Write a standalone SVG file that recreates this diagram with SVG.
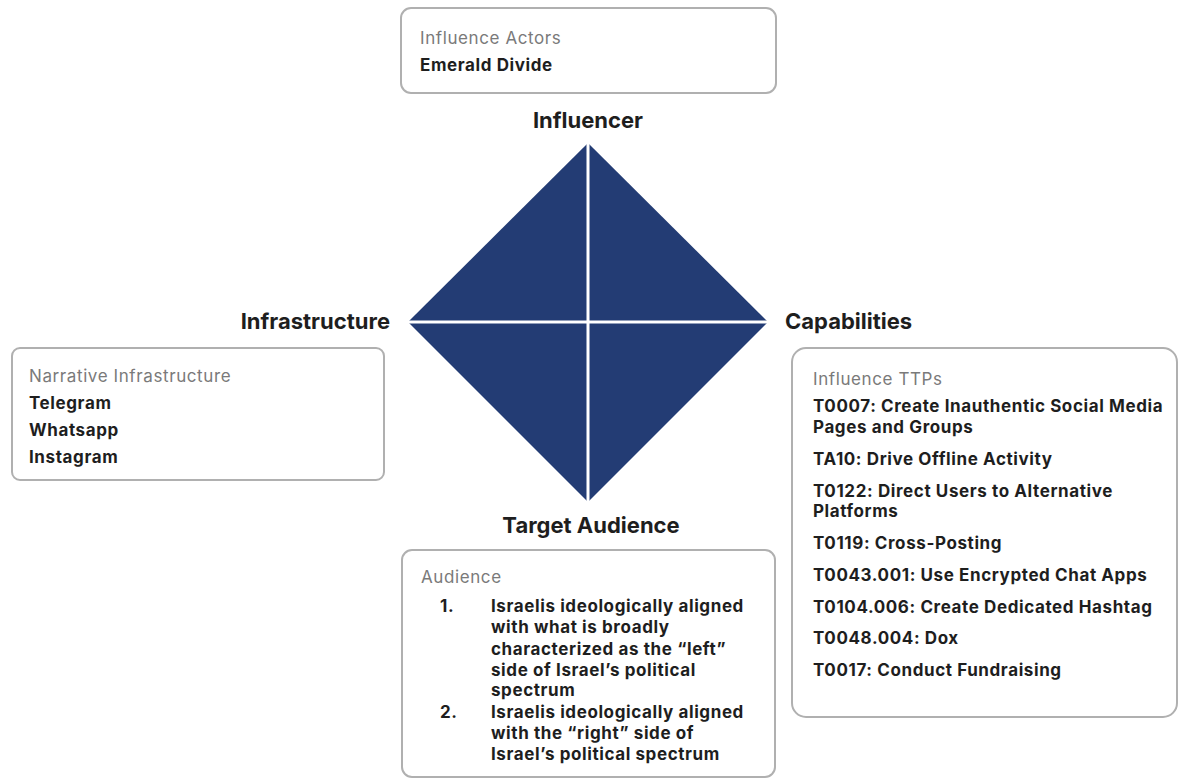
<svg xmlns="http://www.w3.org/2000/svg" width="1179" height="779" viewBox="0 0 1179 779">
  <style>
    .box { fill: #ffffff; stroke: #b0b0b0; stroke-width: 2; }
    .title { font-family: Inter, "Liberation Sans", sans-serif; font-weight: 700; font-size: 22px; fill: #1e1e1e; }
    .cap { font-family: Inter, "Liberation Sans", sans-serif; font-weight: 400; font-size: 17px; letter-spacing: 0.6px; fill: #7a7a7a; }
    .item { font-family: Inter, "Liberation Sans", sans-serif; font-weight: 700; font-size: 17px; letter-spacing: 0.6px; fill: #1e1e1e; }
    .quad { fill: #233c74; }
    .cut { stroke: #ffffff; stroke-width: 3; }
  </style>
  <rect x="0" y="0" width="1179" height="779" fill="#ffffff"/>

  <!-- central diamond split into four quadrants -->
  <g id="diamond">
    <polygon class="quad" points="588,143 768,322 588,502 408,322"/>
    <line class="cut" x1="588" y1="140" x2="588" y2="505"/>
    <line class="cut" x1="405" y1="322" x2="771" y2="322"/>
  </g>

  <!-- vertex labels -->
  <g id="labels">
    <text class="title" x="588" y="128" text-anchor="middle">Influencer</text>
    <text class="title" x="390" y="329" text-anchor="end">Infrastructure</text>
    <text class="title" x="785" y="329">Capabilities</text>
    <text class="title" x="591" y="533" text-anchor="middle">Target Audience</text>
  </g>

  <g id="connectors"></g>

  <g id="influence-actors">
    <rect class="box" x="401" y="8" width="375" height="85" rx="10"/>
    <text class="cap" x="420" y="44">Influence Actors</text>
    <text class="item" x="420" y="71">Emerald Divide</text>
  </g>

  <g id="narrative-infrastructure">
    <rect class="box" x="12" y="348" width="372" height="132" rx="8"/>
    <text class="cap" x="29" y="382">Narrative Infrastructure</text>
    <text class="item" x="29" y="409">Telegram</text>
    <text class="item" x="29" y="436">Whatsapp</text>
    <text class="item" x="29" y="463">Instagram</text>
  </g>

  <g id="influence-ttps">
    <rect class="box" x="792" y="348" width="385" height="369" rx="14"/>
    <text class="cap" x="813" y="385">Influence TTPs</text>
    <text class="item" x="813" y="412">T0007: Create Inauthentic Social Media</text>
    <text class="item" x="813" y="433">Pages and Groups</text>
    <text class="item" x="813" y="465">TA10: Drive Offline Activity</text>
    <text class="item" x="813" y="497">T0122: Direct Users to Alternative</text>
    <text class="item" x="813" y="517">Platforms</text>
    <text class="item" x="813" y="549">T0119: Cross-Posting</text>
    <text class="item" x="813" y="581">T0043.001: Use Encrypted Chat Apps</text>
    <text class="item" x="813" y="613">T0104.006: Create Dedicated Hashtag</text>
    <text class="item" x="813" y="644">T0048.004: Dox</text>
    <text class="item" x="813" y="676">T0017: Conduct Fundraising</text>
  </g>

  <g id="audience">
    <rect class="box" x="402" y="550" width="373" height="227" rx="10"/>
    <text class="cap" x="421" y="583">Audience</text>
    <text class="item" x="440" y="612">1.</text>
    <text class="item" x="491" y="612">Israelis ideologically aligned</text>
    <text class="item" x="491" y="633">with what is broadly</text>
    <text class="item" x="491" y="655">characterized as the “left”</text>
    <text class="item" x="491" y="676">side of Israel’s political</text>
    <text class="item" x="491" y="696">spectrum</text>
    <text class="item" x="440" y="718">2.</text>
    <text class="item" x="491" y="718">Israelis ideologically aligned</text>
    <text class="item" x="491" y="739">with the “right” side of</text>
    <text class="item" x="491" y="760">Israel’s political spectrum</text>
  </g>
</svg>
